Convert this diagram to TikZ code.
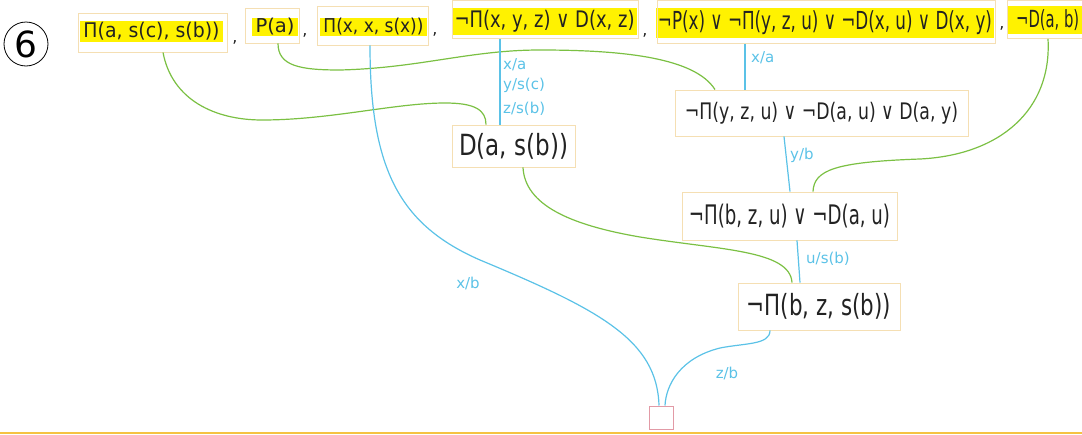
\documentclass[tikz,border=0pt]{standalone}
\usepackage{fontspec}
\setmainfont{DejaVu Sans}
\usepackage{graphicx}
\definecolor{boxc}{HTML}{F5DFB3}
\definecolor{hl}{HTML}{FFF200}
\definecolor{gr}{HTML}{7BC043}
\definecolor{bl}{HTML}{5BC2E7}
\definecolor{pk}{HTML}{E29AA6}
\definecolor{gold}{HTML}{F5C342}
\definecolor{ink}{HTML}{222222}
\newcommand{\fw}[3]{\resizebox*{#1pt}{#2pt}{#3}}
\begin{document}
\begin{tikzpicture}[x=1pt,y=-1pt,
  clause/.style={draw=boxc, line width=0.9pt, inner sep=0, rectangle, text=ink},
  hlt/.style={fill=hl, inner sep=0, text=ink},
  txt/.style={text=ink, inner sep=0, font=\fontsize{16}{16}\selectfont},
  gline/.style={draw=gr, line width=1.2pt},
  bline/.style={draw=bl, line width=1.2pt},
  sub/.style={text=bl, font=\fontsize{15}{16}\selectfont, inner sep=0},
]
\useasboundingbox (0,0) rectangle (1082,434);
\fill[gold] (0,431.5) rectangle (1082,434);

\node[draw, circle, minimum size=44, line width=0.8pt, inner sep=0, font=\fontsize{36}{36}\selectfont] (num) at (26,44) {6};

% top clauses: highlights
\node[hlt, minimum width=143, minimum height=21] (h1) at (151.5,31) {\fw{136}{18}{Π(a, s(c), s(b))}};
\node[hlt, minimum width=46, minimum height=18] (h2) at (275,26.5) {\fw{39}{17}{P(a)}};
\node[hlt, minimum width=107, minimum height=18] (h3) at (373.5,26.5) {\fw{100}{17}{Π(x, x, s(x))}};
\node[hlt, minimum width=185, minimum height=27] (h4) at (544.5,21.5) {\fw{180}{22}{¬Π(x, y, z) ∨ D(x, z)}};
\node[hlt, minimum width=338, minimum height=30] (h5) at (825,23) {\fw{334}{24}{¬P(x) ∨ ¬Π(y, z, u) ∨ ¬D(x, u) ∨ D(x, y)}};
\node[hlt, minimum width=75, minimum height=28, anchor=west] (h6) at (1008,20) {\hspace{4pt}\fw{63}{21}{¬D(a, b)}};

% top clauses: boxes
\node[clause, minimum width=149, minimum height=39] (c1) at (152.5,32.5) {};
\node[clause, minimum width=54, minimum height=35] (c2) at (272,25.5) {};
\node[clause, minimum width=111, minimum height=39] (c3) at (372.5,25.5) {};
\node[clause, minimum width=186, minimum height=38] (c4) at (545,19.5) {};
\node[clause, minimum width=338, minimum height=43] (c5) at (826,22) {};
\node[clause, minimum width=78, minimum height=38] (c6) at (1046,19.5) {};

% commas
\node[txt] (k1) at (235,42) {,};
\node[txt] (k2) at (305,35) {,};
\node[txt] (k3) at (435,34) {,};
\node[txt] (k4) at (645,35) {,};
\node[txt] (k5) at (1002,28) {,};

% derived clauses
\node[clause, minimum width=123, minimum height=42] (m1) at (513.5,146) {\fw{109}{26}{D(a, s(b))}};
\node[clause, minimum width=293, minimum height=46] (m2) at (821.5,113) {\fw{273}{22}{¬Π(y, z, u) ∨ ¬D(a, u) ∨ D(a, y)}};
\node[clause, minimum width=215, minimum height=48] (m3) at (789.5,216) {\fw{201}{24}{¬Π(b, z, u) ∨ ¬D(a, u)}};
\node[clause, minimum width=162, minimum height=47] (m4) at (819,306.5) {\fw{144}{26}{¬Π(b, z, s(b))}};
\node[draw=pk, line width=1pt, minimum width=24, minimum height=23, inner sep=0] (e) at (661,417.5) {};

% green connectors
\draw[gline] ([xshift=10.5]c1.south) .. controls (172,100) and (215,120) .. (262,120)
  .. controls (330,120) and (395,103) .. (445,103)
  .. controls (475,103) and (486,110) .. ([xshift=-27.5]m1.north);
\draw[gline] ([xshift=6]c2.south) .. controls (278,66) and (300,70) .. (340,70)
  .. controls (420,68) and (470,50) .. (540,50)
  .. controls (625,50) and (695,58) .. ([xshift=-106.5]m2.north);
\draw[gline] ([xshift=2]c6.south) .. controls (1052,110) and (1000,155) .. (920,159)
  .. controls (835,162) and (814,170) .. ([xshift=23.5]m3.north);
\draw[gline] ([xshift=9.5]m1.south) .. controls (525,205) and (570,225) .. (640,237)
  .. controls (720,250) and (790,250) .. ([xshift=-27]m4.north);

% blue connectors
\draw[bline] ([xshift=-45]c4.south) -- ([xshift=-13.5]m1.north);
\draw[bline] ([xshift=-81]c5.south) -- ([xshift=-76.5]m2.north);
\draw[bline] ([xshift=-37.5]m2.south) -- ([xshift=0.5]m3.north);
\draw[bline] ([xshift=7.5]m3.south) -- ([xshift=-19]m4.north);
\draw[bline] ([xshift=-2.5]c3.south) .. controls (370,170) and (400,225) .. (480,260)
  .. controls (600,310) and (657,340) .. ([xshift=-2]e.north);
\draw[bline] ([xshift=-49]m4.south) .. controls (770,345) and (745,343) .. (720,348)
  .. controls (680,358) and (666,385) .. ([xshift=4]e.north);

% substitution labels
\node[sub, anchor=west] (s1) at (503,65) {x/a};
\node[sub, anchor=west] (s2) at (503,85) {y/s(c)};
\node[sub, anchor=west] (s3) at (503,109) {z/s(b)};
\node[sub, anchor=west] (s4) at (751,58) {x/a};
\node[sub, anchor=west] (s5) at (790,155) {y/b};
\node[sub, anchor=west] (s6) at (806,259) {u/s(b)};
\node[sub] (s7) at (468,283) {x/b};
\node[sub] (s8) at (727,373) {z/b};
\end{tikzpicture}
\end{document}
